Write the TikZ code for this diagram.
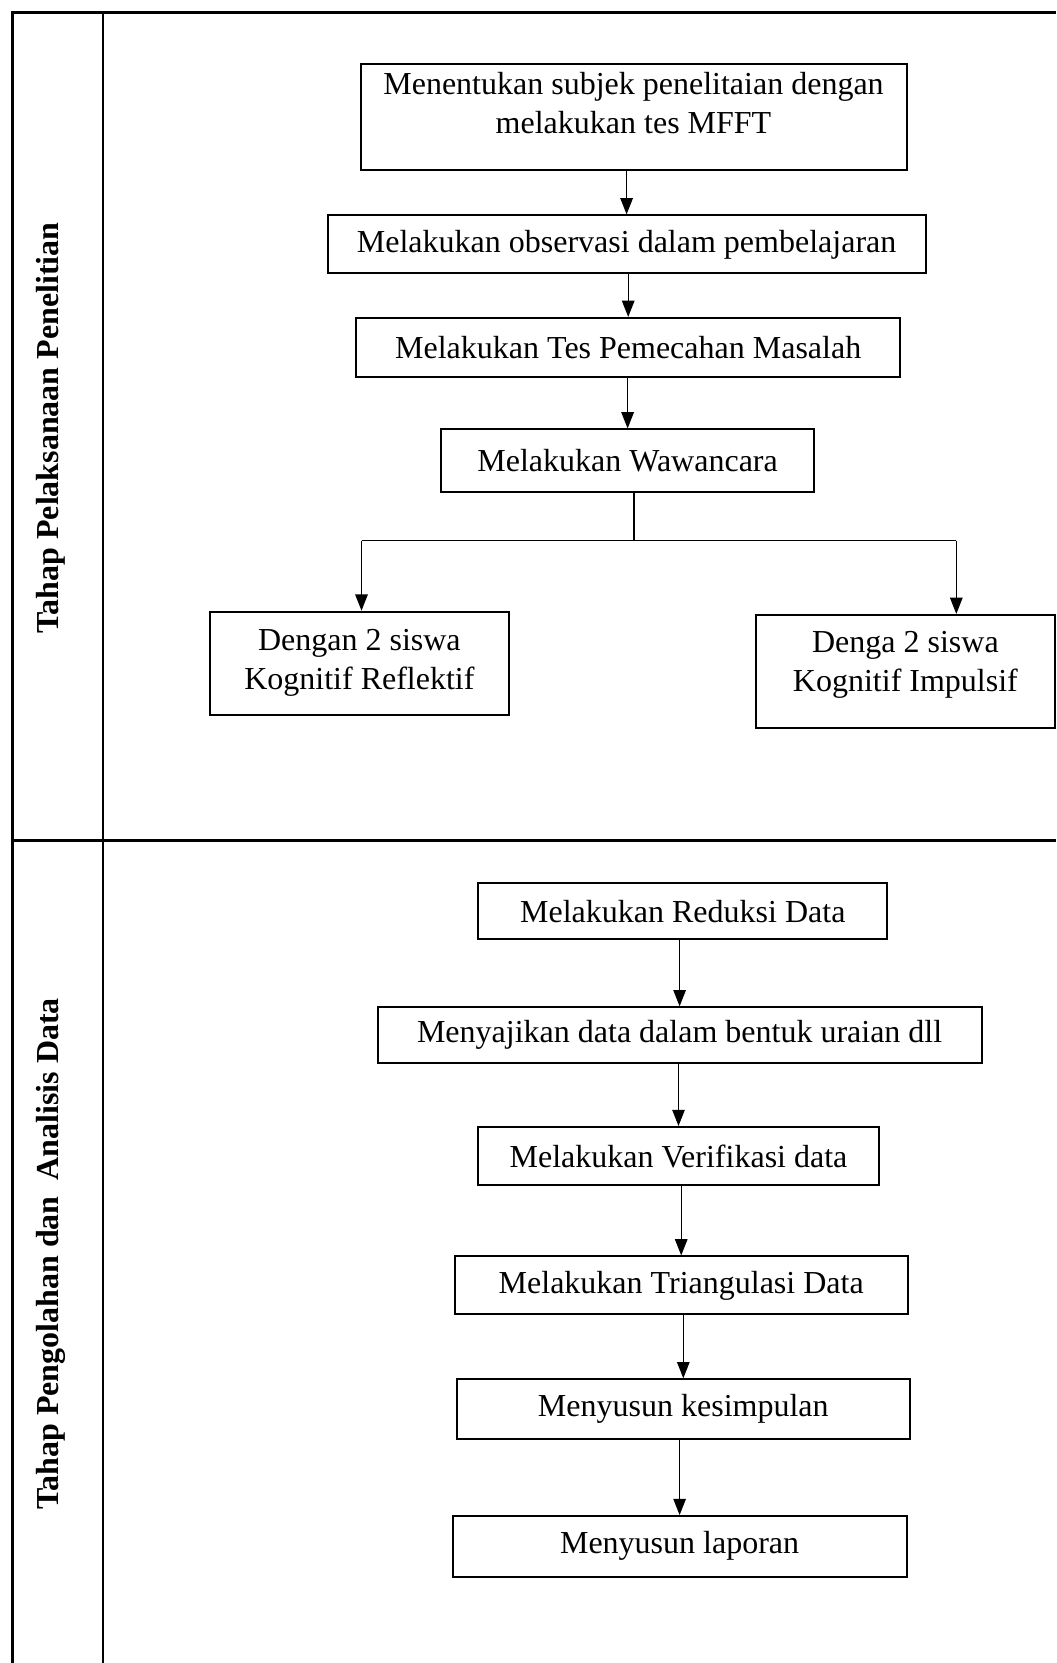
\documentclass[tikz,border=0pt]{standalone}
\usepackage{fontspec}
\setmainfont{Liberation Serif}
\usetikzlibrary{arrows.meta}

\begin{document}
\begin{tikzpicture}[x=0.4pt, y=-0.4pt,
    every node/.style={font=\fontsize{12.8}{15.6}\selectfont},
    box/.style={draw, line width=0.8pt, inner sep=0pt, align=center},
    arr/.style={-{Triangle[length=6.5pt,width=5pt]}, line width=0.5pt},
    tahap/.style={rotate=90, font=\fontsize{12.8}{15.6}\selectfont\bfseries}]
    \useasboundingbox (0,0) rectangle (1056,1663);

    % frame
    \draw[line width=1pt] (12.7,1663) -- (12.7,12.7) -- (1056,12.7);
    \draw[line width=1pt] (102.8,12.7) -- (102.8,1663);
    \draw[line width=1pt] (12.7,840.7) -- (1056,840.7);

    \node[tahap] (t1) at (50.9,428) {Tahap Pelaksanaan Penelitian};
    \node[tahap] (t2) at (50.9,1254) {Tahap Pengolahan dan \ Analisis Data};

    % tahap pelaksanaan
    \node[box, minimum width=218.4pt, minimum height=42.4pt,
          label={[align=center, yshift=5.5pt]center:Menentukan subjek penelitaian dengan\\ melakukan tes MFFT}]
          (n1) at (633.5,116.6) {};
    \node[box, minimum width=239.2pt, minimum height=23.2pt] (n2) at (626.6,244.4) {Melakukan observasi dalam pembelajaran};
    \node[box, minimum width=217.6pt, minimum height=23.8pt] (n3) at (628.2,347.7) {Melakukan Tes Pemecahan Masalah};
    \node[box, minimum width=149.2pt, minimum height=25pt] (n4) at (627.6,460.7) {Melakukan Wawancara};
    \node[box, minimum width=119.6pt, minimum height=41.2pt] (n5) at (359.4,663.2) {Dengan 2 siswa\\ Kognitif Reflektif};
    \node[box, minimum width=119.6pt, minimum height=45.4pt,
          label={[align=center, yshift=2.8pt]center:Denga 2 siswa\\ Kognitif Impulsif}]
          (n6) at (905.4,671.7) {};

    \draw[arr] (n1.south -| n2) -- (n2.north);
    \draw[arr] (n2.south -| n3) -- (n3.north);
    \draw[arr] (n3.south -| n4) -- (n4.north);

    \coordinate (split) at (634,540.7);
    \coordinate (lft) at (361.5,540.7);
    \coordinate (rgt) at (956.3,540.7);
    \draw[line width=0.5pt] (n4.south -| split) -- (split);
    \draw[line width=0.5pt] (lft) -- (rgt);
    \draw[arr] (lft) -- (lft |- n5.north);
    \draw[arr] (rgt) -- (rgt |- n6.north);

    % tahap pengolahan
    \node[box, minimum width=163.6pt, minimum height=22.4pt] (n7) at (682.8,911.2) {Melakukan Reduksi Data};
    \node[box, minimum width=241.6pt, minimum height=22.4pt] (n8) at (679.6,1035.3) {Menyajikan data dalam bentuk uraian dll};
    \node[box, minimum width=160.4pt, minimum height=23.2pt] (n9) at (678.5,1156) {Melakukan Verifikasi data};
    \node[box, minimum width=181.2pt, minimum height=23.2pt] (n10) at (681.2,1285.4) {Melakukan Triangulasi Data};
    \node[box, minimum width=181pt, minimum height=23.8pt] (n11) at (683.3,1409) {Menyusun kesimpulan};
    \node[box, minimum width=181.6pt, minimum height=24.2pt] (n12) at (679.6,1546.3) {Menyusun laporan};

    \draw[arr] (n7.south -| n8) -- (n8.north);
    \draw[arr] (n8.south -| n9) -- (n9.north);
    \draw[arr] (n9.south -| n10) -- (n10.north);
    \draw[arr] (n10.south -| n11) -- (n11.north);
    \draw[arr] (n11.south -| n12) -- (n12.north);
\end{tikzpicture}
\end{document}
